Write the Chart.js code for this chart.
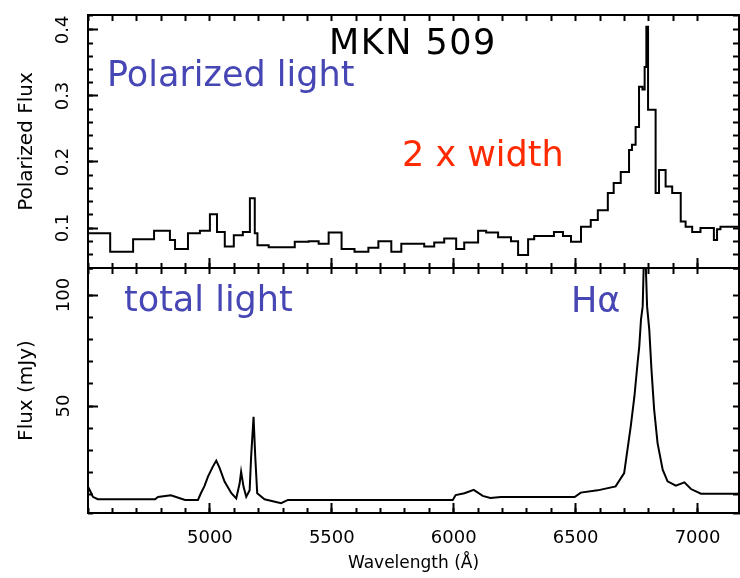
<!DOCTYPE html>
<html>
<head>
<meta charset="utf-8">
<title>MKN 509</title>
<script src="https://cdn.jsdelivr.net/npm/chart.js@4"></script>
<style>
  html, body { margin: 0; padding: 0; background: #fff; }
  #wrap { position: relative; width: 740px; height: 578px; overflow: hidden; }
  canvas { position: absolute; left: 0; }
  #top { top: 0; }
  #bottom { top: 266px; }
  .note { position: absolute; font-family: "DejaVu Sans", sans-serif; font-size: 35px; line-height: 1; white-space: nowrap; }
</style>
</head>
<body>
<div id="wrap">
  <canvas id="top" width="740" height="270"></canvas>
  <canvas id="bottom" width="740" height="312"></canvas>
  <div class="note" style="left:329px; top:25px; color:#000; letter-spacing:1.5px;">MKN 509</div>
  <div class="note" style="left:107px; top:57px; color:#4646b4;">Polarized light</div>
  <div class="note" style="left:402px; top:137px; color:#ff2a00;">2 x width</div>
  <div class="note" style="left:124px; top:282px; color:#4646b4;">total light</div>
  <div class="note" style="left:571px; top:283px; color:#4646b4;">H&alpha;</div>
</div>
<script>
// ---- axes
const waveMin = 4500, waveMax = 7170;
const waveTicks = [5000, 5500, 6000, 6500, 7000];
const polMin = 0.0394, polMax = 0.4227;
const polTicks = [0.1, 0.2, 0.3, 0.4];
const fluxMin = 1.8, fluxMax = 112.2;
const fluxTicks = [50, 100];

// ---- polarized flux (binned): start wavelength of each bin and its value
const polWave = [4500, 4591, 4685, 4771, 4836, 4857, 4910, 4959, 5000, 5029, 5061, 5098, 5135, 5164, 5184, 5195,
  5241, 5348, 5405, 5446, 5487, 5540, 5593, 5650, 5691, 5744, 5785, 5879, 5920, 5961, 6010, 6043, 6100, 6133,
  6182, 6235, 6264, 6305, 6330, 6411, 6448, 6481, 6522, 6562, 6591, 6632, 6656, 6685, 6719, 6731, 6746, 6760,
  6774, 6783, 6790, 6797, 6828, 6842, 6869, 6896, 6931, 6951, 6978, 7012, 7067, 7080, 7094, 7170];
const polFlux = [0.092, 0.064, 0.083, 0.096, 0.082, 0.068, 0.092, 0.096, 0.121, 0.094, 0.072, 0.089, 0.094, 0.145, 0.092, 0.074,
  0.071, 0.079, 0.080, 0.076, 0.093, 0.068, 0.064, 0.070, 0.080, 0.064, 0.076, 0.072, 0.078, 0.084, 0.068, 0.078, 0.096, 0.093,
  0.086, 0.080, 0.059, 0.083, 0.088, 0.094, 0.088, 0.079, 0.102, 0.112, 0.127, 0.153, 0.168, 0.185, 0.218, 0.226, 0.253, 0.314,
  0.310, 0.344, 0.405, 0.279, 0.153, 0.188, 0.163, 0.153, 0.110, 0.102, 0.094, 0.100, 0.082, 0.098, 0.102, 0.102];

// ---- total flux (mJy)
const totWave = [4500, 4510, 4520, 4540, 4775, 4787, 4840, 4898, 4951, 4963, 4978, 4992, 5012, 5026, 5040, 5060,
  5088, 5108, 5122, 5128, 5138, 5149, 5163, 5169, 5179, 5186, 5194, 5224, 5292, 5320, 5648, 5996, 6008, 6044,
  6082, 6119, 6150, 6193, 6496, 6521, 6590, 6664, 6699, 6726, 6741, 6754, 6761, 6768, 6775, 6783, 6793, 6802,
  6811, 6822, 6836, 6857, 6877, 6911, 6946, 6973, 7014, 7170];
const totFlux = [13.6, 11.5, 9.1, 8.0, 8.0, 9.0, 9.8, 7.7, 7.7, 10.7, 14.0, 18.2, 22.7, 25.4, 22.0, 16.0,
  10.7, 8.4, 15.2, 20.4, 13.6, 9.1, 12.1, 27.1, 45.1, 27.1, 10.7, 8.0, 6.2, 7.7, 7.7, 7.7, 9.9, 10.7,
  12.2, 9.5, 8.6, 9.0, 9.0, 11.0, 12.0, 13.8, 19.8, 40.8, 54.3, 69.4, 76.9, 88.9, 94.9, 130, 94.9, 84.4,
  66.4, 48.4, 33.3, 21.3, 16.1, 14.1, 15.6, 12.6, 10.5, 10.5];

const ink = '#000';
const tickFont = { family: 'DejaVu Sans', size: 18 };
const yTitleFont = { family: 'DejaVu Sans', size: 20 };
const xTitleFont = { family: 'DejaVu Sans', size: 17 };

function points(xs, ys) {
  return xs.map(function (x, i) { return { x: x, y: ys[i] }; });
}

// force axis box size, drop label padding so the plot frames line up
function fix(w, h) {
  return function (s) {
    if (w !== null) s.width = w;
    if (h !== null) s.height = h;
    s.paddingLeft = 0; s.paddingRight = 0; s.paddingTop = 0; s.paddingBottom = 0;
  };
}
function useTicks(list) {
  return function (s) { s.ticks = list.map(function (v) { return { value: v }; }); };
}
// unlabelled axis used only for inward tick marks / frame lines
function edge(pos, min, max, step, len, size, weight, border) {
  const horiz = pos === 'top' || pos === 'bottom';
  return {
    type: 'linear', position: pos, min: min, max: max, weight: weight,
    ticks: { display: false, stepSize: step },
    grid: { drawOnChartArea: false, tickLength: -len, tickWidth: 2, tickColor: ink },
    border: { display: border, color: ink, width: 2 },
    afterFit: fix(horiz ? null : size, horiz ? size : null)
  };
}

function panel(id, opt) {
  const xMain = edge('bottom', waveMin, waveMax, 500, 10, opt.bottomSize, 1, true);
  xMain.afterBuildTicks = useTicks(waveTicks);
  if (opt.showX) {
    xMain.ticks = { display: true, color: ink, font: tickFont, padding: 25, maxRotation: 0, minRotation: 0,
      callback: function (v) { return String(v); } };
    xMain.title = { display: true, text: 'Wavelength (Å)', color: ink, font: xTitleFont, padding: { bottom: 4 } };
  }
  return new Chart(id, {
    type: 'line',
    data: {
      datasets: [{
        data: opt.data,
        stepped: opt.stepped,
        borderColor: ink,
        borderWidth: 2,
        pointRadius: 0,
        fill: false,
        tension: 0
      }]
    },
    options: {
      responsive: false,
      animation: false,
      devicePixelRatio: 1,
      layout: { padding: 0 },
      plugins: { legend: { display: false }, tooltip: { enabled: false } },
      scales: {
        x: xMain,
        xMinor: edge('bottom', waveMin, waveMax, 100, 5, 0, 0, false),
        xTop: edge('top', waveMin, waveMax, 100, 6, opt.topSize, 0, true),
        y: {
          type: 'linear', position: 'left', weight: 1, min: opt.yMin, max: opt.yMax,
          afterBuildTicks: useTicks(opt.yTicks),
          afterCalculateLabelRotation: function (s) { s.labelRotation = 90; },
          ticks: { color: ink, font: tickFont, crossAlign: 'center', padding: opt.yPad, callback: opt.fmt },
          grid: { drawOnChartArea: false, tickLength: -10, tickWidth: 2, tickColor: ink },
          border: { color: ink, width: 2 },
          title: { display: true, text: opt.yTitle, color: ink, font: yTitleFont, padding: { top: 15 } },
          afterFit: fix(88, null)
        },
        yMinor: edge('left', opt.yMin, opt.yMax, opt.yStep, 5, 0, 0, false),
        yRight: edge('right', opt.yMin, opt.yMax, opt.yStep, 6, 1, 0, true)
      }
    }
  });
}

panel('top', {
  data: points(polWave, polFlux), stepped: true,
  yMin: polMin, yMax: polMax, yTicks: polTicks, yStep: 0.02, yPad: 20,
  fmt: function (v) { return v.toFixed(1); },
  yTitle: 'Polarized Flux', topSize: 15, bottomSize: 2, showX: false
});

panel('bottom', {
  data: points(totWave, totFlux), stepped: false,
  yMin: fluxMin, yMax: fluxMax, yTicks: fluxTicks, yStep: 10, yPad: 16,
  fmt: function (v) { return String(v); },
  yTitle: 'Flux (mJy)', topSize: 2, bottomSize: 65, showX: true
});
</script>
</body>
</html>
